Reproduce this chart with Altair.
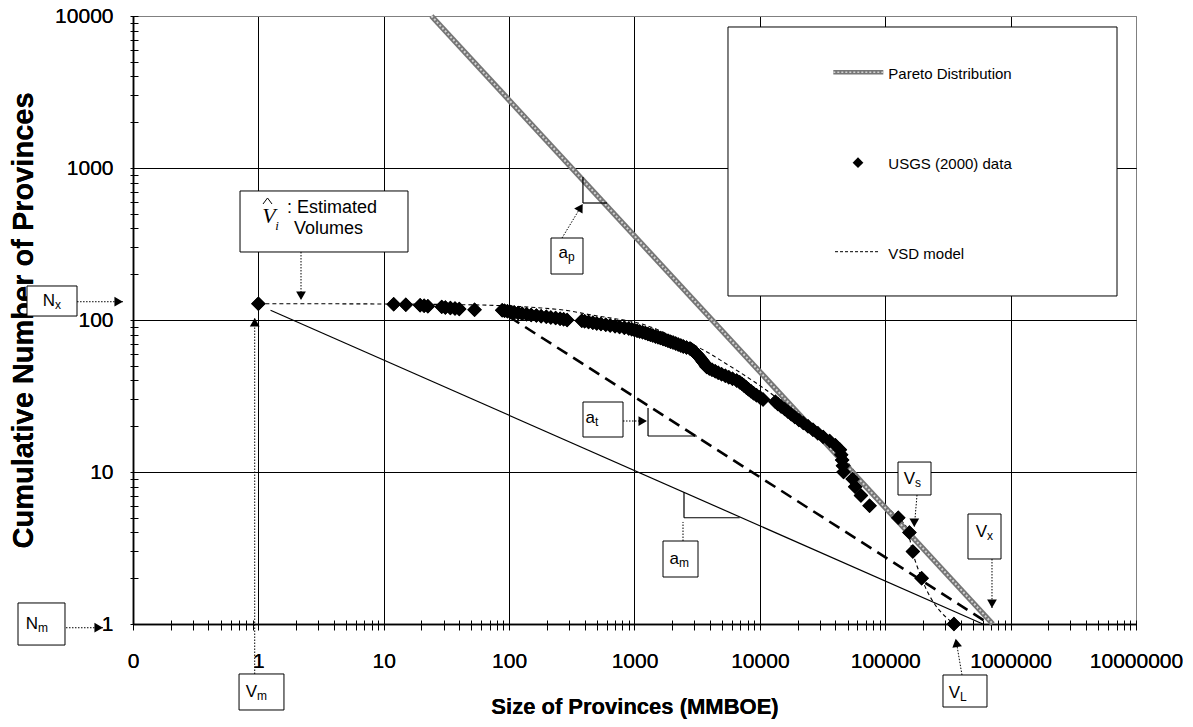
import altair as alt
import pandas as pd

FONT = "Liberation Sans"
SERIF = "Liberation Serif"

# ---------------------------------------------------------------------------
# USGS (2000) province sizes (MMBOE) and the cumulative number of provinces
# ---------------------------------------------------------------------------
usgs_size = [
    1, 12, 15, 19.5, 21, 22.5, 29, 31, 34, 37, 40, 53,
    88, 92, 97, 103, 110, 118, 127, 138, 150, 165, 180, 198, 215, 235, 255, 272, 290,
    380, 400, 430, 465, 500, 540, 590, 640, 700, 760, 830, 900, 950, 1000,
    1050, 1100, 1160, 1220, 1280, 1340, 1400, 1470, 1540, 1610, 1690, 1770, 1850,
    1940, 2030, 2130, 2230, 2340, 2450, 2600, 2770,
    2850, 2920, 2990, 3050, 3110, 3170, 3230, 3290, 3350, 3410, 3470, 3530, 3600,
    3660, 3720, 3770,
    3950, 4150, 4400, 4650, 4950, 5300, 5650, 6050, 6530,
    6900, 7200, 7500, 7800, 8100, 8500, 8900, 9400, 10000, 10600,
    13300, 13900, 14800, 15800, 16700, 17800, 19000, 20500, 22200, 24200, 26500,
    29000, 32000,
    36000, 40000, 43500, 44500, 45300, 46000, 46500, 55000, 57500, 64000, 75000,
    127000, 156000, 166000, 195000, 353000,
]
usgs_count = [
    128, 127, 126, 125, 124, 123, 122, 121, 120, 119, 118, 117,
    116, 115, 114, 113, 112, 111, 110, 109, 108, 107, 106, 105, 104, 103, 102, 101, 100,
    99, 98, 97, 96, 95, 94, 93, 92, 91, 90, 89, 88, 87, 86,
    85, 84, 83, 82, 81, 80, 79, 78, 77, 76, 75, 74, 73,
    72, 71, 70, 69, 68, 67, 66, 65,
    64, 63, 62, 61, 60, 59, 58, 57, 56, 55, 54, 53, 52,
    51, 50, 49,
    48, 47, 46, 45, 44, 43, 42, 41, 40,
    39, 38, 37, 36, 35, 34, 33, 32, 31, 30,
    29, 28, 27, 26, 25, 24, 23, 22, 21, 20, 19,
    18, 17,
    16, 15, 14, 13, 12, 11, 10, 9, 8, 7, 6,
    5, 4, 3, 2, 1,
]

# VSD model curve
vsd_size = [1, 10, 30, 70, 100, 180, 300, 450, 700, 1000, 1500, 2000, 2800, 4000,
            5100, 7000, 10000, 15000, 20000, 30000, 45000, 60000, 80000, 100000,
            130000, 150000, 165000, 195000, 353000]
vsd_count = [128, 127.5, 126.5, 125, 123.5, 120, 115, 108, 102, 97, 87, 78, 70, 60,
             53, 45, 37, 29, 24, 18, 13, 9.5, 7.2, 6, 4.9, 4.2, 3.0, 2.0, 1]

# Pareto distribution (slope a_p)
pareto_size = [24, 720000]
pareto_count = [10000, 1]

# Straight lines with slopes a_t (dashed) and a_m (solid)
at_size = [100, 680000]
at_count = [105, 1]
am_size = [1.25, 600000]
am_count = [116, 1]

# Axis ticks
x_major_ticks = [0.1, 1, 10, 100, 1000, 10000, 100000, 1000000, 10000000]
y_major_ticks = [1, 10, 100, 1000, 10000]
mantissas = [1, 2, 3, 4, 5, 6, 7, 8, 9]
x_minor_ticks = [m * d for d in x_major_ticks[:-1] for m in mantissas] + [10000000]
y_minor_ticks = [m * d for d in y_major_ticks[:-1] for m in mantissas] + [10000]

# ---------------------------------------------------------------------------
# Annotation geometry (in data units: MMBOE, number of provinces)
# ---------------------------------------------------------------------------
# framed boxes: legend, N_x, N_m, V_m, estimated volumes, a_p, a_t, a_m, V_s, V_x, V_L
box_x1 = [5568, 0.01427, 0.0121, 0.701, 0.7138, 215.8, 388.3, 1688, 126400, 457100, 288800]
box_x2 = [7056000, 0.03576, 0.02868, 1.60, 15.61, 388.3, 809.7, 3210, 231700, 838000, 647800]
box_y1 = [8466, 167.4, 1.375, 0.469, 706, 346.3, 28.87, 3.516, 11.63, 5.292, 0.4619]
box_y2 = [143.9, 106.2, 0.727, 0.2718, 280.2, 200.7, 16.99, 2.038, 7.059, 2.677, 0.2844]

# dotted pointers from the boxes
ptr_x1 = [0.0358, 0.02921, 0.935, 2.188, 264.1, 809.7, 2437, 179200, 710200, 409400]
ptr_y1 = [131.9, 0.945, 0.469, 280.2, 346.3, 21.65, 3.516, 7.059, 2.677, 0.4619]
ptr_x2 = [0.0832, 0.0576, 0.935, 2.188, 381.3, 1258, 2437, 170500, 710200, 366700]
ptr_y2 = [131.9, 0.945, 103.1, 135.4, 570.9, 21.65, 4.69, 4.346, 1.274, 0.7847]

# arrow heads at the pointer tips
head_right_x = [0.0832, 0.0576, 1258]
head_right_y = [131.9, 0.945, 21.65]
head_up_x = [0.935]
head_up_y = [103.1]
head_down_x = [2.188, 170500, 710200]
head_down_y = [135.4, 4.346, 1.274]
head_ap = (381.3, 570.9)
head_vl = (366700, 0.7847)

# slope markers (solid segments)
seg_x1 = [388, 388, 1282, 1282, 2482, 2482]
seg_y1 = [872.5, 588.5, 26.37, 17.25, 7.345, 5.0]
seg_x2 = [388, 603.6, 1282, 3151, 2482, 6900]
seg_y2 = [588.5, 588.5, 17.25, 17.25, 5.0, 5.0]

# circumflex over the estimated-volume symbol
hat_x1 = [1.089, 1.183]
hat_y1 = [579.8, 634.8]
hat_x2 = [1.183, 1.284]
hat_y2 = [634.8, 579.8]

# symbol labels with subscripts
lab_base = ["N", "N", "V", "a", "a", "a", "V", "V", "V"]
lab_sub = ["x", "m", "m", "p", "t", "m", "s", "x", "L"]
lab_x = [0.02387, 0.01748, 0.975, 294.8, 484.2, 2264, 172700, 647800, 394800]
lab_y = [133.4, 1.0, 0.357, 276.0, 22.66, 2.677, 8.992, 4.03, 0.3516]

# plain texts: estimated-volume note and legend entries
txt = [": Estimated", "Volumes", "Pareto Distribution", "USGS (2000) data", "VSD model"]
txt_x = [1.691, 1.924, 105800, 105800, 105800]
txt_y = [545.6, 396.9, 4153, 1062, 271.8]
txt_fs = [18, 18, 15, 15, 15]

# legend samples
leg_pareto_x = [38530, 96500]
leg_pareto_y = [4262, 4262]
leg_vsd_x = [39760, 90800]
leg_vsd_y = [281.4, 281.4]
leg_point = (60620, 1083)

# ---------------------------------------------------------------------------
x_scale = alt.Scale(type="log", domain=[0.1, 10000000], nice=False)
y_scale = alt.Scale(type="log", domain=[1, 10000], nice=False)


def ex(field="v", axis=None):
    return alt.X(f"{field}:Q", scale=x_scale, axis=axis)


def ey(field="n", axis=None):
    return alt.Y(f"{field}:Q", scale=y_scale, axis=axis)


x_axis = alt.Axis(
    orient="bottom", values=x_major_ticks,
    labelExpr="datum.value < 0.5 ? '0' : format(datum.value, 'd')",
    ticks=False, grid=True, gridWidth=1, gridOpacity=1,
    gridColor={"condition": {"test": "datum.value > 5000000", "value": "#808080"}, "value": "black"},
    domain=True, domainColor="black", domainWidth=1.5,
    labelFont=FONT, labelFontSize=21, labelColor="black", labelPadding=26,
    labelFlush=False, labelOverlap=False,
    title="Size of Provinces (MMBOE)", titleFont=FONT, titleFontSize=22,
    titleFontWeight="bold", titleColor="black", titlePadding=25,
)
y_axis = alt.Axis(
    orient="left", values=y_major_ticks,
    labelExpr="format(datum.value, 'd')",
    ticks=False, grid=True, gridWidth=1, gridOpacity=1,
    gridColor={"condition": {"test": "datum.value > 5000", "value": "#808080"}, "value": "black"},
    domain=True, domainColor="black", domainWidth=1.5,
    labelFont=FONT, labelFontSize=21, labelColor="black", labelPadding=20,
    labelFlush=False, labelOverlap=False,
    title="Cumulative Number of Provinces", titleFont=FONT, titleFontSize=29,
    titleFontWeight="bold", titleColor="black", titlePadding=16,
)
x_minor_axis = alt.Axis(
    orient="bottom", values=x_minor_ticks, labels=False, grid=False, domain=False,
    ticks=True, tickSize=10, tickWidth=1, tickColor="black", offset=-4, title=None,
)
y_minor_axis = alt.Axis(
    orient="left", values=y_minor_ticks, labels=False, grid=False, domain=False,
    ticks=True, tickSize=8, tickWidth=1, tickColor="black", offset=-5, title=None,
)

usgs_df = pd.DataFrame({"v": usgs_size, "n": usgs_count})
vsd_df = pd.DataFrame({"v": vsd_size, "n": vsd_count})
pareto_df = pd.DataFrame({"v": pareto_size, "n": pareto_count})
at_df = pd.DataFrame({"v": at_size, "n": at_count})
am_df = pd.DataFrame({"v": am_size, "n": am_count})

# minor ticks (invisible carrier layer)
minor = alt.Chart(usgs_df).mark_point(opacity=0).encode(
    x=ex(axis=x_minor_axis), y=ey(axis=y_minor_axis))

pareto_outer = alt.Chart(pareto_df).mark_line(color="#767676", strokeWidth=5.5).encode(x=ex(), y=ey())
pareto_inner = alt.Chart(pareto_df).mark_line(
    color="#d2d2d2", strokeWidth=2, strokeDash=[2, 2]).encode(x=ex(), y=ey())
at_line = alt.Chart(at_df).mark_line(color="black", strokeWidth=2.6, strokeDash=[12, 7]).encode(x=ex(), y=ey())
am_line = alt.Chart(am_df).mark_line(color="black", strokeWidth=1.2).encode(x=ex(), y=ey())
vsd_line = alt.Chart(vsd_df).mark_line(
    color="black", strokeWidth=1.1, strokeDash=[4, 3], interpolate="monotone").encode(x=ex(), y=ey())

points = alt.Chart(usgs_df).mark_point(
    shape="diamond", filled=True, color="black", size=210, opacity=1).encode(
    x=ex(axis=x_axis), y=ey(axis=y_axis))

boxes_df = pd.DataFrame({"v": box_x1, "v2": box_x2, "n": box_y1, "n2": box_y2})
boxes = alt.Chart(boxes_df).mark_rect(fill="white", stroke="black", strokeWidth=1).encode(
    x=ex(), x2="v2:Q", y=ey(), y2="n2:Q")

ptr_df = pd.DataFrame({"v": ptr_x1, "v2": ptr_x2, "n": ptr_y1, "n2": ptr_y2})
pointers = alt.Chart(ptr_df).mark_rule(color="black", strokeWidth=1, strokeDash=[1.5, 1.5]).encode(
    x=ex(), x2="v2:Q", y=ey(), y2="n2:Q")

seg_df = pd.DataFrame({"v": seg_x1, "v2": seg_x2, "n": seg_y1, "n2": seg_y2})
segments = alt.Chart(seg_df).mark_rule(color="black", strokeWidth=1.2).encode(
    x=ex(), x2="v2:Q", y=ey(), y2="n2:Q")

hat_df = pd.DataFrame({"v": hat_x1, "v2": hat_x2, "n": hat_y1, "n2": hat_y2})
hat = alt.Chart(hat_df).mark_rule(color="black", strokeWidth=1).encode(
    x=ex(), x2="v2:Q", y=ey(), y2="n2:Q")


def heads(xs, ys, **kw):
    df = pd.DataFrame({"v": xs, "n": ys})
    return alt.Chart(df).mark_point(filled=True, color="black", opacity=1, size=95, **kw).encode(
        x=ex(), y=ey())


head_layers = [
    heads(head_right_x, head_right_y, shape="triangle-right", xOffset=-4.3),
    heads(head_up_x, head_up_y, shape="triangle-up", yOffset=4.3),
    heads(head_down_x, head_down_y, shape="triangle-down", yOffset=-4.3),
    heads([head_ap[0]], [head_ap[1]], shape="triangle", angle=31, xOffset=-2.2, yOffset=3.7),
    heads([head_vl[0]], [head_vl[1]], shape="triangle", angle=350, xOffset=0.7, yOffset=4.2),
]

lab_df = pd.DataFrame({"v": lab_x, "n": lab_y, "base": lab_base, "sub": lab_sub})
lab_base_layer = alt.Chart(lab_df).mark_text(
    align="right", baseline="middle", font=FONT, fontSize=17, color="black").encode(
    x=ex(), y=ey(), text="base:N")
lab_sub_layer = alt.Chart(lab_df).mark_text(
    align="left", baseline="middle", font=FONT, fontSize=12, color="black", dy=4).encode(
    x=ex(), y=ey(), text="sub:N")

txt_df = pd.DataFrame({"v": txt_x, "n": txt_y, "t": txt, "fs": txt_fs})
texts = alt.Chart(txt_df).mark_text(
    align="left", baseline="middle", font=FONT, color="black").encode(
    x=ex(), y=ey(), text="t:N", size=alt.Size("fs:Q", scale=None, legend=None))

# V with subscript i (estimated volumes)
vhat_df = pd.DataFrame({"v": [1.215], "n": [483.3]})
vi_df = pd.DataFrame({"v": [1.408], "n": [415.3]})
v_glyph = alt.Chart(vhat_df).mark_text(
    font=SERIF, fontStyle="italic", fontSize=22, color="black", baseline="middle").encode(
    x=ex(), y=ey(), text=alt.value("V"))
i_glyph = alt.Chart(vi_df).mark_text(
    font=SERIF, fontStyle="italic", fontSize=13, color="black", baseline="middle").encode(
    x=ex(), y=ey(), text=alt.value("i"))

# legend samples
leg_p_df = pd.DataFrame({"v": leg_pareto_x, "n": leg_pareto_y})
leg_v_df = pd.DataFrame({"v": leg_vsd_x, "n": leg_vsd_y})
leg_pt_df = pd.DataFrame({"v": [leg_point[0]], "n": [leg_point[1]]})
leg_p_outer = alt.Chart(leg_p_df).mark_line(color="#767676", strokeWidth=4.5).encode(x=ex(), y=ey())
leg_p_inner = alt.Chart(leg_p_df).mark_line(
    color="#d2d2d2", strokeWidth=1.6, strokeDash=[2, 2]).encode(x=ex(), y=ey())
leg_v = alt.Chart(leg_v_df).mark_line(color="black", strokeWidth=1, strokeDash=[3, 2]).encode(x=ex(), y=ey())
leg_pt = alt.Chart(leg_pt_df).mark_point(
    shape="diamond", filled=True, color="black", size=115, opacity=1).encode(x=ex(), y=ey())

chart = alt.layer(
    points, minor,
    am_line, at_line, vsd_line, pareto_outer, pareto_inner,
    points,
    boxes, segments, pointers, hat, *head_layers,
    lab_base_layer, lab_sub_layer, texts, v_glyph, i_glyph,
    leg_p_outer, leg_p_inner, leg_v, leg_pt,
).resolve_axis(x="independent", y="independent").properties(
    width=1003, height=608,
    autosize=alt.AutoSizeParams(type="none"),
    padding={"left": 133, "top": 16, "right": 57, "bottom": 103},
    background="white",
).configure_view(stroke="#808080", strokeWidth=1.5).configure(font=FONT)

chart.save("out.html", embed_options={"renderer": "svg", "actions": False})
